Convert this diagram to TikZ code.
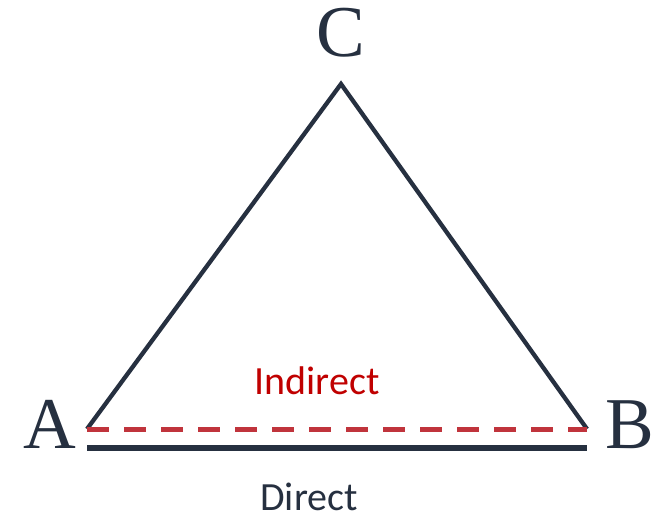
\documentclass[tikz,border=0pt]{standalone}
\usepackage{fontspec}
\setmainfont{Liberation Serif}
\newfontfamily\labelfont{Carlito}
\definecolor{darkline}{HTML}{263040}
\definecolor{dashred}{HTML}{C0343C}
\definecolor{textred}{HTML}{C00000}
\tikzset{
  vertexlabel/.style={font=\fontsize{73}{86}\selectfont, text=darkline, inner sep=0pt},
  edgelabel/.style={font=\labelfont\fontsize{40}{48}\selectfont, inner sep=0pt},
  sideline/.style={draw=darkline, line width=4.3pt},
  directline/.style={draw=darkline, line width=5.5pt},
  indirectline/.style={draw=dashred, line width=5pt, dash pattern=on 22pt off 15pt}
}
\begin{document}
\begin{tikzpicture}[x=1pt,y=-1pt]
\useasboundingbox (0,0) rectangle (667,516);
\coordinate (a) at (87,429);
\coordinate (b) at (587,429);
\coordinate (c) at (341,84);
\coordinate (da) at (87,448);
\coordinate (db) at (587,448);
\draw[sideline, line join=miter] (a) -- (c) -- (b);
\draw[indirectline] (a) -- (b);
\draw[directline] (da) -- (db);
\node[vertexlabel, anchor=base] (A) at (50,448) {A};
\node[vertexlabel, anchor=base] (B) at (630,448) {B};
\node[vertexlabel, anchor=base] (C) at (341,57) {C};
\node[edgelabel, text=textred] (ind) at (317,381) {Indirect};
\node[edgelabel, text=darkline, anchor=base] (dir) at (309,510) {Direct};
\end{tikzpicture}
\end{document}
